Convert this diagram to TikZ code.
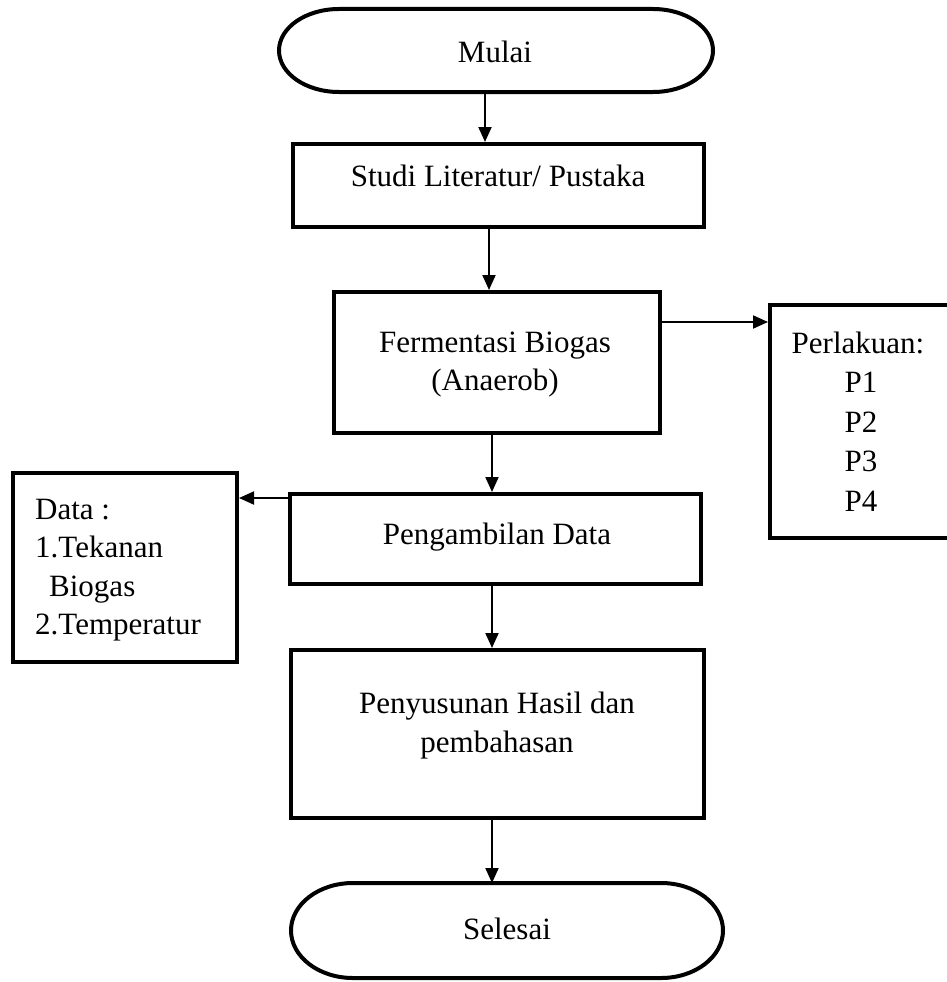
\documentclass[tikz,border=0pt]{standalone}
\usepackage{fontspec}
\setmainfont{Liberation Serif}
\usetikzlibrary{arrows.meta}
\begin{document}
\begin{tikzpicture}[x=1pt,y=-1pt,
  bx/.style={draw, line width=4pt, inner sep=0pt},
  term/.style={draw=none, inner sep=0pt, outer sep=0pt},
  txt/.style={inner sep=0pt, anchor=base, font=\fontsize{31}{36}\selectfont},
  txtl/.style={inner sep=0pt, anchor=base west, font=\fontsize{31}{36}\selectfont},
  arr/.style={line width=2pt, -{Triangle[width=13pt,length=15pt]}}]
\useasboundingbox[fill=white] (0,0) rectangle (947,982);
\begin{scope}
\clip (0,0) rectangle (947,982);
% terminals
\node[term, minimum width=434pt, minimum height=83pt] (mulai) at (496,50.5) {};
\draw[line width=4pt] ([xshift=60pt]mulai.north west) -- ([xshift=-60pt]mulai.north east)
  arc[start angle=90, end angle=-90, x radius=60pt, y radius=41.5pt]
  -- ([xshift=60pt]mulai.south west)
  arc[start angle=270, end angle=90, x radius=60pt, y radius=41.5pt] -- cycle;
\node[term, minimum width=432pt, minimum height=95pt] (selesai) at (507,930.5) {};
\draw[line width=4pt] ([xshift=62pt]selesai.north west) -- ([xshift=-62pt]selesai.north east)
  arc[start angle=90, end angle=-90, x radius=62pt, y radius=47.5pt]
  -- ([xshift=62pt]selesai.south west)
  arc[start angle=270, end angle=90, x radius=62pt, y radius=47.5pt] -- cycle;
% boxes
\node[bx, minimum width=411pt, minimum height=83pt] (studi) at (498.5,185.5) {};
\node[bx, minimum width=326pt, minimum height=141pt] (ferm) at (497,362.5) {};
\node[bx, minimum width=188pt, minimum height=233pt] (perl) at (864,421.5) {};
\node[bx, minimum width=411pt, minimum height=90pt] (peng) at (495.5,539) {};
\node[bx, minimum width=224pt, minimum height=189pt] (data) at (125,567.5) {};
\node[bx, minimum width=413pt, minimum height=168pt] (peny) at (497.5,734) {};
\end{scope}
% texts
\node[txt] (t-mulai) at (495,63) {Mulai};
\node[txt] (t-studi) at (498,186) {Studi Literatur/ Pustaka};
\node[txt] (t-ferm1) at (495,352) {Fermentasi Biogas};
\node[txt] (t-ferm2) at (495,390) {(Anaerob)};
\node[txt] (t-perl0) at (858,353) {Perlakuan:};
\node[txt] (t-perl1) at (861,392.5) {P1};
\node[txt] (t-perl2) at (861,432) {P2};
\node[txt] (t-perl3) at (861,471.5) {P3};
\node[txt] (t-perl4) at (861,511) {P4};
\node[txt] (t-peng) at (497,544) {Pengambilan Data};
\node[txtl] (t-data0) at (35,519) {Data :};
\node[txtl] (t-data1) at (35,557.5) {1.Tekanan};
\node[txtl] (t-data2) at (49,596) {Biogas};
\node[txtl] (t-data3) at (35,634.5) {2.Temperatur};
\node[txt] (t-peny1) at (497,713) {Penyusunan Hasil dan};
\node[txt] (t-peny2) at (497,752) {pembahasan};
\node[txt] (t-sel) at (507,939) {Selesai};
% connector positions
\coordinate (x1) at (485,0);
\coordinate (x2) at (489,0);
\coordinate (x3) at (492,0);
\coordinate (y3) at (0,322);
\coordinate (y5) at (0,498);
% connectors
\draw[arr] (mulai.south -| x1) -- (studi.north -| x1);
\draw[arr] (studi.south -| x2) -- (ferm.north -| x2);
\draw[arr] (ferm.east |- y3) -- (perl.west |- y3);
\draw[arr] (ferm.south -| x3) -- (peng.north -| x3);
\draw[arr] (peng.west |- y5) -- (data.east |- y5);
\draw[arr] (peng.south -| x3) -- (peny.north -| x3);
\draw[arr] (peny.south -| x3) -- (selesai.north -| x3);
\end{tikzpicture}
\end{document}
